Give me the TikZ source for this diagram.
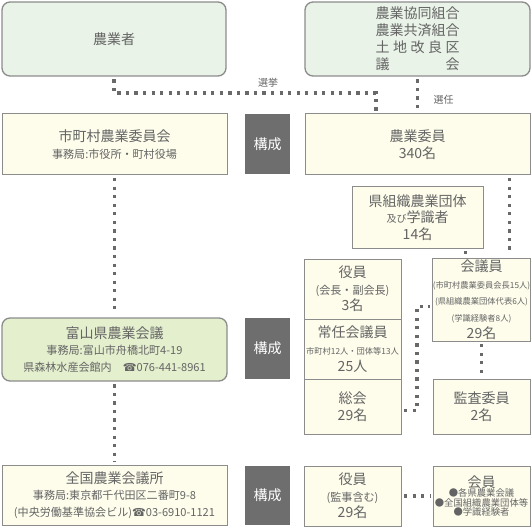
\documentclass[tikz,border=0pt]{standalone}
\usepackage{fontspec}
\setmainfont{Noto Sans CJK JP}
\newfontfamily\telfont{DejaVu Sans}
\usetikzlibrary{calc}

\definecolor{topgreen}{RGB}{233,243,231}
\definecolor{toyamagreen}{RGB}{228,239,206}
\definecolor{cream}{RGB}{254,253,236}
\definecolor{boxline}{RGB}{140,140,140}
\definecolor{kouseigray}{RGB}{110,110,110}
\definecolor{txtgray}{RGB}{100,100,100}
\definecolor{dotgray}{RGB}{105,105,105}

\newcommand{\titlesize}{\fontsize{10.5}{12.5}\selectfont}
\newcommand{\subsize}{\fontsize{8.3}{10}\selectfont}
\newcommand{\smallsize}{\fontsize{7.5}{9}\selectfont}
\newcommand{\tinysize}{\fontsize{6.2}{7.8}\selectfont}
\newcommand{\tel}{{\telfont ☎}}

\tikzset{every picture/.style={line width=0.75pt}}

\begin{document}
\begin{tikzpicture}[x=0.75pt,y=0.75pt,yscale=-1,xscale=1,
  greenbox/.style={draw=boxline, fill=topgreen, rounded corners=6pt, line width=1pt, text=txtgray, font=\titlesize, align=center, inner sep=0pt},
  creambox/.style={draw=boxline, fill=cream, text=txtgray, font=\titlesize, align=center, inner sep=0pt},
  kousei/.style={fill=kouseigray, text=white, font=\titlesize, inner sep=0pt, minimum width=33.75pt},
  wide/.style={minimum width=168.75pt},
  narrow/.style={minimum width=72.75pt},
  dotline/.style={draw=dotgray, line width=2.4pt, dash pattern=on 2.4pt off 4pt, shorten <=2pt, shorten >=2pt},
  label/.style={text=txtgray, font=\smallsize, inner sep=0.75pt}]
\useasboundingbox (0,0) rectangle (531,527);

% top row
\node [greenbox, minimum width=168pt, minimum height=55.5pt] (farmer) at (114,39) {農業者};
\node [greenbox, wide, minimum height=55.5pt, align=left, font=\fontsize{10.5}{12.75}\selectfont] (groups) at (417.5,39) {農業協同組合\\農業共済組合\\\makebox[6em][s]{土\hfill 地\hfill 改\hfill 良\hfill 区}\\\makebox[6em][s]{議\hfill 会}};

% municipal row
\node [creambox, wide, minimum height=45.75pt] (cityc) at (114.5,144.5) {市町村農業委員会\\{\subsize 事務局:市役所・町村役場}};
\node [kousei, minimum height=45pt] (kousei1) at (267.5,144) {構成};
\node [creambox, wide, minimum height=45.75pt] (members) at (417.5,144.5) {農業委員\\340名};
\node [creambox, minimum width=98.25pt, minimum height=45.75pt] (pref) at (417.5,217.5) {県組織農業団体\\{\smallsize 及び}学識者\\14名};

% prefectural row
\node [creambox, narrow, minimum height=45pt] (officers) at (352.5,289) {役員\\{\subsize (会長・副会長)}\\3名};
\node [creambox, narrow, minimum height=45pt] (standing) at (352.5,349) {常任会議員\\{\tinysize 市町村12人・団体等13人}\\25人};
\node [creambox, narrow, minimum height=41.25pt] (general) at (352.5,406.5) {総会\\29名};
\node [creambox, narrow, minimum height=62.25pt] (council) at (481.5,299.5) {会議員\\{\tinysize (市町村農業委員会長15人)}\\{\tinysize (県組織農業団体代表6人)}\\{\tinysize (学識経験者8人)}\\29名};
\node [creambox, narrow, minimum height=41.25pt] (audit) at (481.5,406.5) {監査委員\\2名};
\node [greenbox, fill=toyamagreen, wide, minimum height=47.25pt] (toyama) at (114.5,349.5) {富山県農業会議\\{\subsize 事務局:富山市舟橋北町4-19}\\{\subsize 県森林水産会館内\quad\tel 076-441-8961}};
\node [kousei, minimum height=45.75pt] (kousei2) at (267.5,348.5) {構成};

% national row
\node [creambox, wide, minimum height=45pt] (national) at (114.5,495) {全国農業会議所\\{\subsize 事務局:東京都千代田区二番町9-8}\\{\subsize (中央労働基準協会ビル)\tel 03-6910-1121}};
\node [kousei, minimum height=44.25pt] (kousei3) at (267.5,495.5) {構成};
\node [creambox, narrow, minimum height=45pt] (natofficers) at (352.5,496) {役員\\{\subsize (監事含む)}\\29名};
\node [creambox, narrow, minimum height=45pt, font=\fontsize{7}{7.2}\selectfont] (natmembers) at (481.5,496) {{\titlesize 会員}\\●各県農業会議\\●全国組織農業団体等\\●学識経験者};

% labels
\node [label] (senkyo) at (268,83) {選挙};
\node [label, anchor=west] (sennin) at (432,100) {選任};

% connectors
\coordinate (voteturn) at (376,93);
\draw [dotline] (farmer.south) |- (voteturn) -- (voteturn |- members.north);
\draw [dotline] (groups.south) -- (members.north);
\draw [dotline] (cityc.south) -- (toyama.north);
\draw [dotline] ($(members.south east)+(-21,0)$) coordinate (m1) -- (m1 |- council.north);
\draw [dotline] ($(pref.south east)+(-18,0)$) coordinate (p1) -- (p1 |- council.north);
\coordinate (genturn) at (417,350);
\draw [dotline] ($(general.east)+(0,4)$) -| (genturn) |- ($(council.west)+(0,7)$);
\draw [dotline] (council.south) -- (audit.north);
\draw [dotline] (toyama.south) -- (national.north);
\draw [dotline] (natofficers.east) -- (natmembers.west);

\end{tikzpicture}
\end{document}
